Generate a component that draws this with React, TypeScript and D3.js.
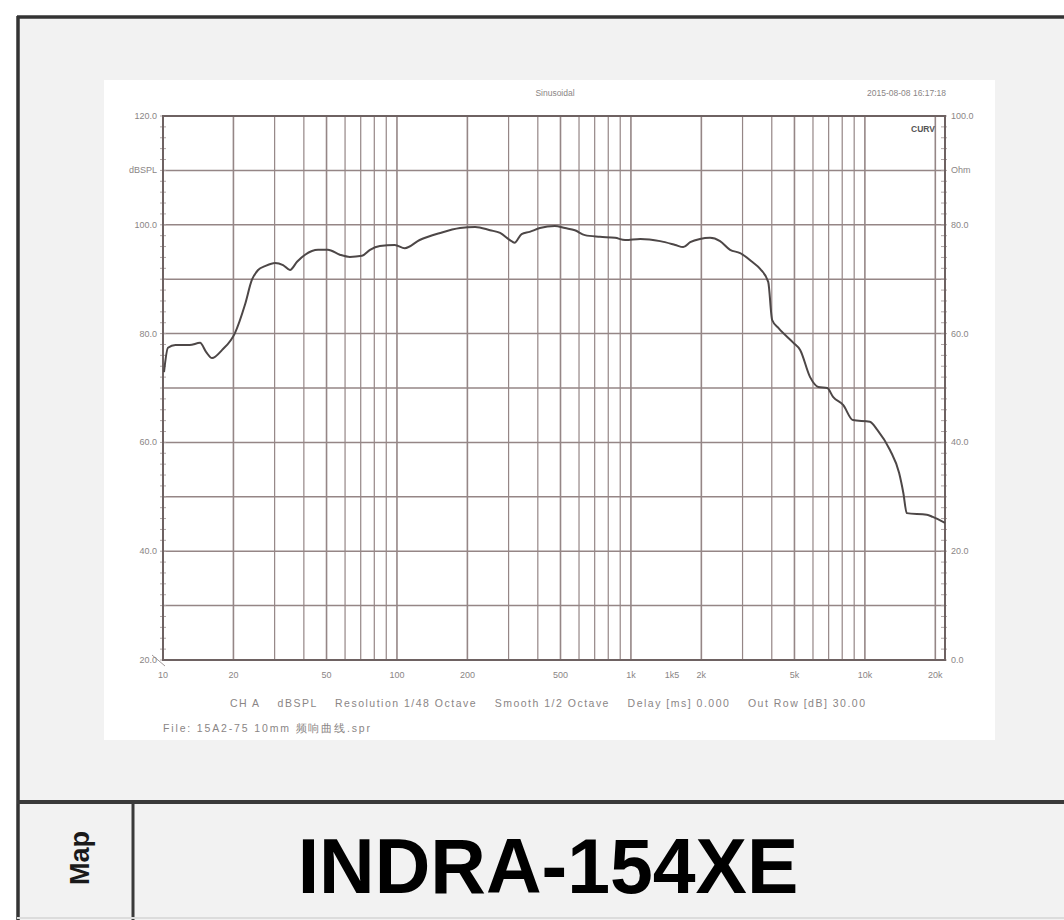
import * as d3 from 'd3';

// frequency response (Hz, dBSPL)
const freqs = [
  10.1, 10.5, 11.3, 13.0, 14.4, 15.3, 16.2, 17.9, 20.3, 22.4, 24.0, 25.5, 27.3, 30.1, 32.6,
  34.9, 37.4, 40.5, 46.0, 50.7, 57.0, 62.9, 70.9, 76.7, 84.5, 97.9, 108, 125, 153, 186,
  216, 250, 276, 304, 318, 341, 369, 408, 473, 523, 576, 636, 737, 856, 944,
  1097, 1333, 1547, 1673, 1792, 1973, 2178, 2404, 2654, 2929, 3296, 3567, 3862, 4015, 4277,
  4950, 5288, 5832, 6322, 6903, 7325, 8070, 8886, 10500, 11300, 12800, 14000, 14600, 15100,
  18400, 19500, 22000,
];
const spl = [
  72.9, 77.4, 77.9, 77.9, 78.3, 76.6, 75.5, 77.0, 80.1, 85.3, 89.9, 91.7, 92.4, 93.0, 92.6,
  91.7, 93.2, 94.5, 95.4, 95.4, 94.5, 94.1, 94.3, 95.4, 96.1, 96.3, 95.7, 97.2, 98.5, 99.4,
  99.6, 99.0, 98.5, 97.2, 96.7, 98.3, 98.7, 99.4, 99.8, 99.4, 99.0, 98.1, 97.8, 97.6, 97.2,
  97.4, 97.0, 96.3, 95.9, 96.8, 97.4, 97.6, 97.0, 95.4, 94.8, 93.2, 91.9, 89.5, 82.5, 81.0,
  78.3, 77.0, 72.0, 70.2, 70.0, 68.3, 66.9, 64.1, 63.8, 62.3, 58.6, 54.4, 50.7, 47.0,
  46.7, 46.3, 45.2,
];

const xTickValues = [10, 20, 50, 100, 200, 500, 1000, 1500, 2000, 5000, 10000, 20000];
const xTickLabels = ['10', '20', '50', '100', '200', '500', '1k', '1k5', '2k', '5k', '10k', '20k'];
const leftTicks = [20, 40, 60, 80, 100, 120];
const rightTicks = [0, 20, 40, 60, 80, 100];

const W = 1064;
const H = 920;
const plot = { left: 163, right: 945, top: 116, bottom: 660 };

export default function App() {
  const x = d3.scaleLog().domain([10, 22000]).range([plot.left, plot.right]);
  const y = d3.scaleLinear().domain([20, 120]).range([plot.bottom, plot.top]);
  const yR = d3.scaleLinear().domain([0, 100]).range([plot.bottom, plot.top]);

  // vertical grid at every 1..9 x decade
  const vGrid: number[] = [];
  [10, 100, 1000, 10000].forEach(d => {
    for (let m = 1; m <= 9; m++) {
      const f = d * m;
      if (f > 10 && f <= 22000) vGrid.push(f);
    }
  });
  const hGrid = d3.range(30, 120, 10);
  const minorY = d3.range(20, 121, 2);

  const line = d3.line<number>()
    .x((_, i) => x(freqs[i]))
    .y(d => y(d))
    .curve(d3.curveMonotoneX);

  const gridColor = '#958686';
  const textColor = '#8a8585';
  const font = '"Liberation Sans", Arial, sans-serif';

  return (
    <svg width={W} height={H} style={{ position: 'absolute', left: 0, top: 0 }}>
      <rect width={W} height={H} fill="#ffffff" />
      {/* card */}
      <rect x={17} y={16} width={W - 17} height={H - 16} fill="#f2f2f2" />
      <line x1={17} x2={W} y1={17} y2={17} stroke="#333" strokeWidth={3.5} />
      <line x1={18} x2={18} y1={16} y2={H} stroke="#333" strokeWidth={3.5} />
      <line x1={17} x2={W} y1={802} y2={802} stroke="#3a3a3a" strokeWidth={4} />
      <line x1={133} x2={133} y1={802} y2={H} stroke="#3a3a3a" strokeWidth={3} />
      <line x1={17} x2={W} y1={918} y2={918} stroke="#dcdcdc" strokeWidth={2} />

      {/* chart panel */}
      <rect x={104} y={80} width={891} height={660} fill="#ffffff" />
      <text x={555} y={96} fontSize={8.5} fill={textColor} fontFamily={font} textAnchor="middle">Sinusoidal</text>
      <text x={946} y={96} fontSize={8.5} fill={textColor} fontFamily={font} textAnchor="end">2015-08-08 16:17:18</text>

      <g>
        {vGrid.map(f => (
          <line key={'v' + f} x1={x(f)} x2={x(f)} y1={plot.top} y2={plot.bottom}
            stroke={gridColor} strokeWidth={xTickValues.includes(f) ? 1.6 : 1.2} />
        ))}
        {hGrid.map(v => (
          <line key={'h' + v} x1={plot.left} x2={plot.right} y1={y(v)} y2={y(v)}
            stroke={gridColor} strokeWidth={1.5} />
        ))}
        {minorY.map(v => (
          <g key={'m' + v}>
            <line x1={plot.left - 3} x2={plot.left + 3} y1={y(v)} y2={y(v)} stroke="#b0a6a6" strokeWidth={1} />
            <line x1={plot.right - 4} x2={plot.right + 2} y1={y(v)} y2={y(v)} stroke="#b0a6a6" strokeWidth={1} />
          </g>
        ))}
        <rect x={plot.left} y={plot.top} width={plot.right - plot.left} height={plot.bottom - plot.top}
          fill="none" stroke="#6e6262" strokeWidth={2} />
        <line x1={152} x2={plot.left + 2} y1={plot.bottom - 5} y2={plot.bottom + 6} stroke="#a09898" strokeWidth={1} />
      </g>

      <path d={line(spl) || ''} fill="none" stroke="#4d4747" strokeWidth={2} />

      <text x={935} y={132} fontSize={8.5} fontWeight="bold" fill="#555" fontFamily={font} textAnchor="end">CURV</text>

      {/* left axis */}
      {leftTicks.map(v => (
        <text key={'l' + v} x={plot.left - 6} y={y(v) + 3} fontSize={9} fill={textColor}
          fontFamily={font} textAnchor="end">{v.toFixed(1)}</text>
      ))}
      <text x={plot.left - 6} y={y(110) + 3} fontSize={9} fill={textColor} fontFamily={font} textAnchor="end">dBSPL</text>

      {/* right axis */}
      {rightTicks.map(v => (
        <text key={'r' + v} x={plot.right + 6} y={yR(v) + 3} fontSize={9} fill={textColor}
          fontFamily={font}>{v.toFixed(1)}</text>
      ))}
      <text x={plot.right + 6} y={yR(90) + 3} fontSize={9} fill={textColor} fontFamily={font}>Ohm</text>

      {/* x axis */}
      {xTickValues.map((f, i) => (
        <text key={'x' + f} x={x(f)} y={plot.bottom + 18} fontSize={9} fill={textColor}
          fontFamily={font} textAnchor="middle">{xTickLabels[i]}</text>
      ))}
      <text x={230} y={707} fontSize={10.5} fill={textColor} fontFamily={font} xmlSpace="preserve"
        textLength={635} lengthAdjust="spacing">
        CH A    dBSPL    Resolution 1/48 Octave    Smooth 1/2 Octave    Delay [ms] 0.000    Out Row [dB] 30.00
      </text>
      <text x={163} y={732} fontSize={10.5} fill={textColor} fontFamily={font}
        textLength={207} lengthAdjust="spacing">File: 15A2-75 10mm 频响曲线.spr</text>

      {/* footer */}
      <text transform="translate(89,858) rotate(-90)" fontSize={27} fontWeight="bold" fill="#1a1a1a"
        fontFamily={font} textAnchor="middle">Map</text>
      <text x={548} y={893} fontSize={77} fontWeight="bold" fill="#000" fontFamily={font}
        textAnchor="middle">INDRA-154XE</text>
    </svg>
  );
}
